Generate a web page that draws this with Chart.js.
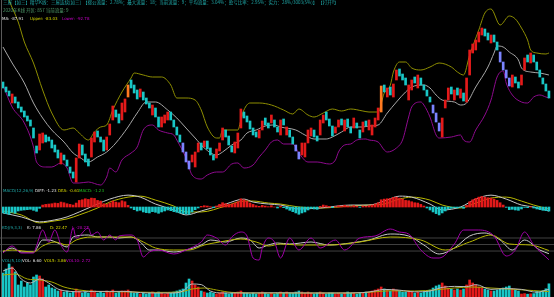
<!DOCTYPE html>
<html>
<head>
<meta charset="utf-8">
<script src="https://cdn.jsdelivr.net/npm/chart.js"></script>
<style>
html, body { margin: 0; padding: 0; background: #000; }
#wrap { position: relative; width: 554px; height: 297px; overflow: hidden; background: #000; }
canvas { position: absolute; left: 0; }
.t { position: absolute; left: 0; height: 6px; white-space: nowrap; font-family: 'DejaVu Sans', sans-serif; font-size: 4px; line-height: 5px; }
.t span { position: absolute; top: 0; }
.cjk { font-family: 'Noto Sans CJK SC', sans-serif; font-size: 4.5px; }
#edge { position: absolute; left: 1px; top: 0; width: 1px; height: 297px; background: #5a5a5a; }
</style>
</head>
<body>
<div id="wrap">
  <canvas id="main" width="554" height="187" style="top:0"></canvas>
  <canvas id="macd" width="554" height="33" style="top:192px"></canvas>
  <canvas id="kdj" width="554" height="36" style="top:226px"></canvas>
  <canvas id="vol" width="554" height="35" style="top:262px"></canvas>
  <div id="edge"></div>

  <div class="t cjk" style="top:0px"><span style="left:3px;color:#1fa8a8">三屋【如三】精华K线：三屋连续[如三]&nbsp;&nbsp;【搜公流量：2.78%；最大流量：18；当前流量：9；平均流量：3.04%；盈亏比率：2.95%；实力：28%/3003(5%)】&nbsp;【打开Y】</span></div>
  <div class="t cjk" style="top:8px"><span style="left:3px;color:#4f9a6a">2020年K线 开区: 857 当前流量: 9</span></div>
  <div class="t" style="top:16px">
    <span style="left:2px;color:#e0e0e0">MA: -87.91</span>
    <span style="left:30px;color:#d8d800">Upper: -83.03</span>
    <span style="left:62px;color:#c800c8">Lower: -92.78</span>
  </div>
  <div class="t" style="top:188px">
    <span style="left:3px;color:#1fa8a8">MACD(12,26,9)</span>
    <span style="left:35px;color:#e0e0e0">DIFF: -1.23</span>
    <span style="left:58px;color:#d8d800">DEA: -0.61</span>
    <span style="left:79px;color:#20c020">MACD: -1.23</span>
  </div>
  <div class="t" style="top:225px">
    <span style="left:2px;color:#1fa8a8">KDJ(9,3,3)</span>
    <span style="left:27px;color:#e0e0e0">K: 7.86</span>
    <span style="left:50px;color:#d8d800">D: 22.47</span>
    <span style="left:72px;color:#c800c8">J: -20.27</span>
  </div>
  <div class="t" style="top:258px">
    <span style="left:2px;color:#1fa8a8">VOL(5,10)</span>
    <span style="left:22px;color:#e0e0e0">VOL: 6.60</span>
    <span style="left:44px;color:#d8d800">VOL5: 3.86</span>
    <span style="left:66px;color:#c800c8">VOL10: 2.72</span>
  </div>
</div>
<script>
/* 日K线数据：开盘 / 收盘 */
const opens = [
  -89.3, -90.3, -91.1, -93.5, -92.3, -93.3, -94.3, -95.1, -96.1, -96.9,
  -98.5, -102.1, -102.9, -101.5, -99.9, -100.3, -100.9, -101.9, -102.9, -105.7,
  -103.9, -104.9, -106.3, -107.3, -109.3, -104.5, -101.9, -103.7, -104.7, -104.3,
  -101.3, -99.1, -100.3, -100.9, -102.9, -99.9, -96.9, -94.9, -95.7, -96.9,
  -95.3, -92.3, -88.9, -89.9, -90.9, -92.3, -91.3, -92.5, -93.5, -95.9,
  -94.5, -96.3, -98.3, -97.5, -96.9, -95.3, -96.9, -98.3, -99.9, -101.5,
  -103.3, -105.1, -105.3, -106.3, -103.3, -101.5, -102.3, -101.1, -102.5, -103.9,
  -104.5, -103.1, -100.9, -98.9, -100.1, -102.1, -103.5, -102.5, -98.5, -95.3,
  -96.1, -97.1, -98.5, -99.3, -100.5, -98.9, -96.5, -97.5, -97.5, -96.9,
  -98.3, -99.9, -96.7, -99.9, -98.9, -100.3, -101.9, -103.3, -103.9, -104.3,
  -101.5, -100.1, -98.9, -100.1, -99.9, -97.5, -95.3, -96.7, -98.1, -99.5,
  -98.3, -96.7, -99.1, -96.7, -98.3, -98.5, -97.5, -98.9, -99.3, -97.1,
  -98.9, -99.9, -98.3, -96.9, -95.3, -89.9, -92.3, -90.3, -92.3, -88.9,
  -86.7, -87.7, -88.5, -92.9, -90.9, -88.3, -90.5, -88.5, -89.9, -90.9,
  -92.3, -93.9, -95.5, -97.5, -100.3, -94.5, -92.9, -90.3, -92.9, -90.5,
  -92.5, -91.5, -93.3, -87.9, -83.5, -82.9, -81.3, -79.9, -78.7, -79.5,
  -81.5, -79.9, -81.3, -83.3, -85.3, -86.9, -88.5, -90.3, -88.3, -89.3,
  -89.9, -86.9, -83.9, -85.5, -83.9, -85.3, -86.9, -88.5, -89.7, -91.1
];
const closes = [
  -90.5, -91.3, -92.1, -91.7, -93.5, -94.5, -95.3, -96.3, -97.1, -98.1,
  -100.5, -103.5, -99.7, -99.5, -101.3, -101.1, -102.5, -103.3, -104.5, -103.5,
  -104.9, -106.1, -107.5, -108.5, -104.5, -101.7, -103.9, -105.3, -106.1, -100.5,
  -99.3, -100.3, -101.3, -103.1, -100.3, -97.7, -94.1, -96.3, -97.5, -93.5,
  -92.7, -89.9, -90.5, -91.5, -92.7, -90.7, -92.9, -93.7, -94.5, -93.9,
  -96.3, -98.3, -96.3, -95.9, -95.3, -96.9, -98.3, -99.9, -101.3, -103.3,
  -105.3, -106.7, -103.9, -103.3, -101.5, -102.9, -101.1, -102.7, -103.9, -104.9,
  -102.7, -101.5, -98.5, -100.3, -101.9, -103.3, -101.3, -99.5, -94.7, -96.5,
  -97.3, -98.7, -99.9, -100.3, -98.9, -97.1, -97.9, -98.5, -95.9, -98.3,
  -99.3, -96.9, -97.9, -98.3, -100.3, -101.7, -103.1, -104.7, -101.5, -101.5,
  -98.9, -98.5, -100.3, -101.1, -96.9, -95.9, -96.9, -98.1, -100.1, -98.3,
  -96.9, -97.9, -96.9, -98.3, -99.5, -96.5, -98.5, -100.5, -97.3, -98.1,
  -96.9, -97.9, -96.5, -94.5, -90.1, -91.3, -90.5, -91.9, -89.7, -86.9,
  -88.1, -88.9, -89.9, -89.9, -88.9, -89.5, -87.9, -89.9, -90.9, -92.1,
  -93.3, -95.5, -97.3, -99.1, -96.5, -92.9, -90.5, -91.7, -90.9, -91.9,
  -90.7, -93.1, -88.5, -82.9, -81.7, -80.9, -79.3, -78.5, -80.1, -80.9,
  -79.9, -81.3, -82.9, -85.3, -86.9, -88.5, -90.1, -87.9, -89.5, -90.5,
  -87.9, -84.5, -85.3, -83.5, -85.3, -86.9, -88.3, -89.7, -91.1, -92.5
];
// 跌破下轨 / 突破上轨的K线
const breakLow = [59, 60, 61, 96, 97, 141, 142, 143, 163, 164, 165, 166];
const breakUp = [41, 124];

/* BOLL */
const upperIdx = [0, 2, 5, 7, 10, 13, 16, 20, 23, 25, 28, 30, 32, 34, 36, 39, 42, 43, 46, 49, 52, 55, 57, 60, 63, 65, 67, 70, 71, 72, 77, 78, 79, 81, 84, 88, 92, 95, 97, 100, 102, 105, 108, 111, 114, 118, 120, 123, 125, 127, 128, 130, 132, 134, 137, 140, 143, 147, 149, 151, 153, 156, 158, 160, 163, 166, 168, 170, 172, 173, 175, 178, 179];
const upperVal = [-68.9, -72.9, -77.3, -81.3, -85.5, -90.9, -95.5, -98.9, -98.5, -99.5, -100.9, -99.3, -98.3, -97.9, -94.9, -91.3, -88.5, -87.5, -87.9, -88.3, -88.3, -89.9, -92.5, -92.5, -92.9, -94.9, -98.3, -100.5, -100.5, -98.9, -98.9, -96.9, -94.9, -93.5, -93.5, -93.9, -94.9, -95.7, -94.7, -95.9, -96.3, -95.5, -94.7, -95.1, -94.7, -95.1, -95.3, -95.3, -91.5, -89.9, -87.3, -85.3, -85.3, -86.5, -86.9, -86.3, -85.5, -86.3, -87.3, -87.9, -83.9, -78.9, -75.5, -74.7, -77.9, -76.1, -76.7, -78.5, -80.9, -82.9, -83.5, -83.7, -83.5];
const midIdx = [0, 3, 7, 10, 13, 16, 20, 23, 25, 28, 31, 34, 37, 41, 44, 47, 50, 54, 57, 60, 63, 66, 70, 72, 75, 78, 80, 83, 86, 89, 91, 96, 99, 102, 106, 108, 111, 114, 118, 120, 123, 126, 129, 132, 134, 138, 140, 142, 144, 148, 150, 152, 155, 159, 161, 162, 164, 166, 169, 170, 173, 176, 179];
const midVal = [-82.3, -85.5, -89.5, -93.5, -96.5, -98.9, -101.3, -103.5, -104.3, -105.3, -104.3, -103.3, -101.5, -98.3, -95.5, -93.3, -93.3, -94.9, -96.5, -98.5, -100.5, -102.5, -103.9, -103.3, -101.9, -100.9, -99.5, -98.9, -98.1, -97.9, -98.3, -98.9, -99.9, -100.7, -100.7, -100.3, -99.3, -98.3, -98.3, -98.1, -97.9, -95.5, -93.3, -91.3, -90.3, -89.9, -90.5, -91.9, -92.9, -93.3, -93.9, -93.5, -90.3, -86.3, -83.5, -82.1, -82.3, -83.3, -84.9, -86.5, -87.3, -87.5, -87.9];
const lowerIdx = [0, 3, 7, 10, 11, 14, 16, 19, 21, 23, 25, 28, 32, 34, 35, 37, 39, 42, 44, 46, 49, 51, 54, 56, 57, 60, 62, 65, 67, 70, 72, 75, 77, 79, 82, 84, 86, 88, 90, 92, 95, 97, 100, 103, 107, 109, 110, 112, 114, 116, 119, 120, 123, 125, 126, 129, 131, 133, 134, 137, 138, 140, 142, 143, 147, 150, 151, 153, 155, 158, 160, 162, 164, 165, 167, 170, 172, 174, 176, 178, 179];
const lowerVal = [-89.9, -94.3, -97.5, -102.3, -105.3, -106.3, -106.3, -105.5, -106.5, -109.5, -109.5, -109.3, -109.9, -108.3, -106.5, -107.3, -104.9, -103.5, -102.3, -98.9, -97.9, -98.9, -99.5, -99.9, -100.9, -104.5, -107.9, -108.7, -107.9, -107.3, -107.3, -105.7, -105.5, -106.5, -105.9, -104.3, -102.9, -101.3, -100.9, -101.7, -101.7, -103.5, -105.3, -105.3, -105.7, -104.9, -103.3, -101.9, -101.7, -100.9, -100.7, -100.9, -101.3, -102.9, -103.3, -102.5, -100.9, -96.3, -94.3, -93.3, -93.9, -96.3, -99.9, -100.5, -100.3, -99.9, -100.9, -101.3, -98.9, -95.9, -92.9, -88.3, -87.1, -89.5, -91.9, -93.3, -93.5, -92.3, -91.9, -92.3, -92.5];

/* MACD(12,26,9) */
const macdBar = [
  -1.8, -2.0, -2.2, -1.6, -1.9, -1.2, -1.0, -0.9, -0.8, -0.7,
  -1.0, -1.3, -0.4, 0.6, 0.8, 0.9, 1.0, 1.2, 1.1, 1.5,
  1.3, 1.0, 0.8, 0.6, 1.2, 2.0, 2.2, 2.5, 2.3, 2.7,
  2.6, 2.0, 1.8, 1.0, 0.8, 1.2, 1.8, 1.5, 1.3, 1.9,
  1.6, 0.5, -0.3, -0.8, -1.2, -1.0, -1.5, -1.7, -1.8, -1.4,
  -1.6, -1.9, -1.5, -1.2, -0.9, -1.1, -1.4, -1.6, -1.8, -2.0,
  -2.1, -2.2, -1.5, -0.8, -0.3, 0.2, 0.4, 0.3, 0.1, -0.2,
  0.3, 0.8, 1.3, 1.0, 0.8, 0.9, 1.2, 1.6, 2.5, 2.2,
  1.8, 1.2, 0.8, 0.4, 0.2, 0.5, 0.3, 0.1, 0.4, 0.0,
  -0.3, 0.2, -0.2, -0.6, -1.0, -1.4, -1.8, -2.2, -1.8, -1.5,
  -0.9, -0.4, -0.6, -0.7, 0.2, 0.6, 0.4, 0.2, -0.2, 0.1,
  0.4, 0.3, 0.5, 0.3, 0.1, 0.4, 0.2, -0.1, 0.3, 0.2,
  0.4, 0.6, 0.9, 1.3, 2.2, 2.4, 2.5, 2.6, 2.9, 3.0,
  2.7, 2.4, 2.0, 1.9, 1.6, 1.3, 1.2, 0.8, 0.3, -0.3,
  -0.9, -1.5, -2.0, -2.4, -1.8, -1.2, -0.6, -0.4, -0.2, -0.3,
  -0.1, -0.4, 0.5, 1.6, 2.2, 2.6, 3.0, 3.2, 3.0, 2.8,
  2.7, 2.4, 2.0, 1.3, 0.6, -0.1, -0.8, -0.7, -0.9, -1.0,
  -0.6, -0.1, -0.2, 0.1, -0.3, -0.6, -0.8, -1.0, -1.1, -1.23
];
const macdIdx = [0, 6, 12, 17, 21, 25, 31, 35, 41, 45, 50, 56, 60, 65, 73, 79, 82, 87, 91, 97, 104, 114, 120, 125, 130, 134, 140, 144, 150, 155, 160, 165, 170, 174, 179];
const diffVal = [-1.8, -3.0, -4.5, -3.9, -3.0, -1.5, 0.9, 2.4, 3.6, 3.0, 0.9, -0.9, -2.4, -1.2, 0.9, 2.4, 1.5, 0.9, 0.6, -0.6, -0.3, 0.6, 0.6, 1.8, 3.3, 3.0, 0.9, -0.9, 0.0, 2.4, 3.6, 2.4, 0.6, 0.0, -1.23];
const deaVal = [-1.2, -2.4, -4.8, -4.2, -3.6, -2.4, -0.3, 1.5, 3.0, 3.3, 2.1, 0.3, -1.5, -1.5, 0.3, 1.8, 1.8, 1.2, 0.9, 0.0, -0.3, 0.3, 0.6, 0.9, 2.4, 3.0, 2.1, 0.6, -0.3, 1.2, 2.7, 3.0, 1.8, 0.6, -0.61];

/* KDJ(9,3,3) */
const kIdx = [0, 3, 6, 10, 13, 15, 18, 21, 23, 28, 31, 35, 38, 42, 45, 48, 51, 56, 60, 65, 68, 73, 78, 81, 84, 87, 90, 94, 101, 107, 114, 120, 127, 133, 138, 143, 148, 153, 158, 163, 167, 171, 176, 179];
const kVal = [15.6, 34, 15.6, 15.6, 70.8, 70.8, 57, 38.6, 84.6, 93.8, 84.6, 84.6, 80, 84.6, 61.6, 24.8, 24.8, 15.6, 24.8, 47.8, 70.8, 61.6, 80, 70.8, 34, 47.8, 57, 52.4, 61.6, 47.8, 57, 70.8, 98.4, 89.2, 47.8, 6.4, 34, 89.2, 103, 70.8, 24.8, 70.8, 24.8, 7.86];
const dIdx = [0, 3, 10, 13, 17, 21, 24, 29, 35, 42, 46, 50, 56, 61, 66, 71, 78, 83, 87, 91, 97, 107, 117, 127, 137, 145, 153, 160, 166, 173, 179];
const dVal = [20.2, 24.8, 15.6, 43.2, 61.6, 47.8, 70.8, 84.6, 84.6, 84.6, 61.6, 34, 24.8, 24.8, 47.8, 61.6, 75.4, 61.6, 43.2, 52.4, 47.8, 47.8, 61.6, 84.6, 70.8, 24.8, 61.6, 93.8, 52.4, 47.8, 22.47];
const jIdx = [0, 3, 6, 10, 11, 13, 15, 17, 19, 21, 23, 24, 28, 29, 31, 33, 35, 37, 38, 42, 44, 46, 48, 51, 56, 60, 65, 67, 70, 73, 75, 78, 80, 82, 84, 85, 87, 89, 91, 94, 97, 101, 104, 109, 112, 117, 122, 127, 130, 133, 137, 141, 143, 148, 151, 156, 161, 165, 168, 171, 174, 179];
const jVal = [11, 43.2, 11, 11, 43, 116.8, 61.6, 116.8, 47.8, 15.6, 126, 80, 126, 93.8, 107.6, 70.8, 93.8, 70.8, 89.2, 93.8, 70.8, -7.4, 15.6, 24.8, 6.4, 24.8, 61.6, 93.8, 80, 47.8, 84.6, 107.6, 89.2, -12, -21.2, 34, 80, 61.6, -12, 80, 24.8, 80, 34, 70.8, 24.8, 80, 89.2, 121.4, 107.6, 98.4, 24.8, -12, -12, 52.4, 116.8, 116.8, 89.2, -2.8, 24.8, 107.6, 47.8, -20.27];
const kdjLevels = [20, 50, 80];

/* VOL(5,10) */
const volume = [
  12, 14, 16.5, 15, 12.5, 6, 8, 5, 7, 6,
  10, 11, 10.5, 9, 5, 6, 4.5, 4, 3, 3.5,
  2.5, 3, 2, 2.5, 4, 3, 2, 2.5, 2, 3.5,
  3, 2, 2.5, 2, 3, 2.5, 3.5, 2, 2.5, 3,
  3, 3.5, 2.5, 2, 2, 1.5, 2, 1.5, 2, 2.5,
  2, 2.5, 2, 1.5, 2, 2, 2.5, 3, 3.5, 4,
  7, 9, 8, 6, 5, 3, 2.5, 2, 2.5, 2,
  1.5, 2, 2.5, 2, 1.5, 2, 2, 2.5, 3, 2,
  2, 1.5, 2, 1.5, 2, 2.5, 2, 1.5, 2, 1.5,
  2, 2.5, 2, 2.5, 2, 2, 2.5, 3, 2.5, 2,
  2.5, 2, 1.5, 2, 2.5, 2, 1.5, 2, 2, 1.5,
  2, 1.5, 2, 2.5, 2, 2, 1.5, 2, 2, 2.5,
  2.5, 3, 3.5, 4, 5, 4, 3.5, 3, 4, 3.5,
  3, 2.5, 2.5, 3, 2.5, 2, 2.5, 2, 2.5, 3,
  3.5, 4.5, 5.5, 6, 7, 5.5, 4.5, 4, 3.5, 4,
  3.5, 4, 6, 8.5, 7, 6, 5, 4.5, 4, 3.5,
  3, 3, 3.5, 4, 4.5, 5, 5.5, 4, 3.5, 3,
  1.5, 1.7, 1.4, 1.6, 1.7, 2.8, 2.6, 3.2, 4.1, 6.6
];
const vol5Idx = [0, 3, 6, 9, 12, 15, 18, 22, 26, 30, 35, 40, 45, 50, 55, 59, 62, 65, 68, 72, 80, 90, 100, 110, 118, 122, 125, 130, 135, 140, 144, 148, 152, 155, 160, 165, 170, 175, 179];
const vol5Val = [13, 14.5, 9, 7, 9, 7, 4, 2.8, 2.6, 2.8, 2.8, 2.8, 2.2, 2, 2, 3, 6.5, 6.2, 3, 2, 2, 2.1, 2, 2, 2.2, 3, 3.8, 3.4, 2.6, 3, 4.8, 5.3, 5.2, 6.2, 3.8, 4.2, 3.8, 2.4, 3.86];
const vol10Idx = [0, 4, 8, 12, 16, 20, 25, 30, 40, 50, 58, 62, 66, 70, 75, 85, 100, 115, 122, 127, 135, 142, 148, 154, 160, 168, 174, 179];
const vol10Val = [11, 11.5, 9, 8.5, 7.5, 5, 3.5, 2.8, 2.6, 2.3, 2.5, 4, 4.5, 3.5, 2.3, 2, 2, 2, 2.6, 3.1, 3, 3.6, 4.5, 5, 4.5, 3.8, 3.2, 2.72];

const RED = '#e41a1a';
const CYAN = '#19c6c6';
const X_MIN = -0.98;
const X_MAX = 180.66;

function baseOptions(yMin, yMax) {
  return {
    responsive: false,
    animation: false,
    events: [],
    layout: { padding: 0 },
    plugins: { legend: { display: false }, tooltip: { enabled: false } },
    scales: {
      x: { type: 'linear', display: false, min: X_MIN, max: X_MAX, offset: false },
      y: { type: 'linear', display: false, min: yMin, max: yMax, beginAtZero: false },
    },
  };
}

function points(idx, vals) {
  return idx.map(function (x, k) { return { x: x, y: vals[k] }; });
}

function line(idx, vals, color) {
  return {
    type: 'line',
    data: points(idx, vals),
    borderColor: color,
    borderWidth: 1,
    pointRadius: 0,
    cubicInterpolationMode: 'monotone',
    fill: false,
  };
}

function candleColor(i) {
  if (breakLow.indexOf(i) >= 0) return '#7b84ff';
  if (breakUp.indexOf(i) >= 0) return '#ff7a20';
  return closes[i] >= opens[i] ? RED : CYAN;
}

// 主图：K线 + BOLL
new Chart(document.getElementById('main'), {
  type: 'bar',
  data: {
    datasets: [
      {
        data: closes.map(function (c, i) { return { x: i, y: [opens[i], c] }; }),
        backgroundColor: function (ctx) { return candleColor(ctx.dataIndex); },
        barThickness: 2,
        borderWidth: 0,
      },
      line(upperIdx, upperVal, '#8e8e00'),
      line(midIdx, midVal, '#a8a8a8'),
      line(lowerIdx, lowerVal, '#8e0a8e'),
    ],
  },
  options: baseOptions(-110.3, -72.9),
});

// MACD
new Chart(document.getElementById('macd'), {
  type: 'bar',
  data: {
    datasets: [
      {
        data: macdBar.map(function (v, i) { return { x: i, y: v }; }),
        backgroundColor: function (ctx) { return macdBar[ctx.dataIndex] >= 0 ? RED : CYAN; },
        barThickness: 2,
        borderWidth: 0,
      },
      line(macdIdx, diffVal, '#c8c8c8'),
      line(macdIdx, deaVal, '#b8b800'),
    ],
  },
  options: baseOptions(-5.45, 4.55),
});

// KDJ
const levelSets = kdjLevels.map(function (v) {
  return {
    type: 'line',
    data: [{ x: X_MIN, y: v }, { x: X_MAX, y: v }],
    borderColor: '#404040',
    borderWidth: 1,
    pointRadius: 0,
  };
});
new Chart(document.getElementById('kdj'), {
  type: 'line',
  data: {
    datasets: [
      line(jIdx, jVal, '#a000a8'),
      line(dIdx, dVal, '#b8b800'),
      line(kIdx, kVal, '#c8c8c8'),
    ].concat(levelSets),
  },
  options: baseOptions(-30.4, 135.2),
});

// VOL
new Chart(document.getElementById('vol'), {
  type: 'bar',
  data: {
    datasets: [
      line(vol5Idx, vol5Val, '#b8b8b8'),
      line(vol10Idx, vol10Val, '#a8a800'),
      {
        data: volume.map(function (v, i) { return { x: i, y: v }; }),
        backgroundColor: function (ctx) { return closes[ctx.dataIndex] >= opens[ctx.dataIndex] ? RED : CYAN; },
        barThickness: 2,
        borderWidth: 0,
      },
    ],
  },
  options: baseOptions(0, 17.5),
});
</script>
</body>
</html>
